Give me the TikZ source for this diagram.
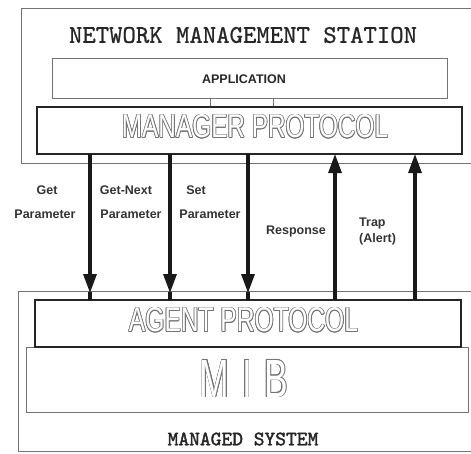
\documentclass[tikz,border=0pt]{standalone}
\usepackage{fontspec}
\setmainfont{Liberation Sans}
\newfontfamily\stationfont{lmmono10-regular.otf}[FakeBold=0.8]
\newfontfamily\systemfont{lmmono10-regular.otf}[FakeBold=1.8]
\usetikzlibrary{arrows.meta,calc}

% outlined (hollow) lettering: grey copies around a white core
\newcommand\hollow[5]{%
  \foreach \a in {0,30,...,330}
    \node[text=black!55, inner sep=0pt] at ($(#2)+(\a:0.75pt)$) {\resizebox{#3}{#4}{#5}};
  \node[text=white, inner sep=0pt] (#1) at (#2) {\resizebox{#3}{#4}{#5}};}

\begin{document}
\begin{tikzpicture}[x=1pt,y=-1pt,
  thinbox/.style={draw=black!55, line width=0.9pt},
  thickbox/.style={draw=black!85, line width=2.6pt},
  boxnode/.style={inner sep=0pt, outer sep=0pt},
  flow/.style={line width=3.1pt, black!90},
  flowhead/.style={flow, -{Triangle[length=19pt,width=13pt]}},
  lbl/.style={font=\bfseries\fontsize{12.5}{14}\selectfont, text=black!80, inner sep=0pt}]

\useasboundingbox (0,0) rectangle (471,453);
\clip (0,0) rectangle (471,453);

% network management station (open to the right)
\draw[thinbox] (490,8) -- (21,8) -- (21,163) -- (490,163);
\node[font=\stationfont\fontsize{25.5}{27}\selectfont, text=black!85, inner sep=0pt] (nms) at (243,35) {NETWORK MANAGEMENT STATION};

% application and its link to the manager protocol
\node[thinbox, boxnode, minimum width=395pt, minimum height=40pt] (app) at (249.5,78) {};
\node[font=\bfseries\fontsize{12.5}{14}\selectfont, text=black!85] (apptxt) at (244,79) {APPLICATION};
\node[thinbox, boxnode, minimum width=63pt, minimum height=9pt] (link) at (241.5,102.5) {};

% manager protocol
\node[thickbox, boxnode, minimum width=425pt, minimum height=47pt] (mgr) at (249.5,130.5) {};
\hollow{mgrtxt}{255,126.5}{266pt}{23pt}{MANAGER PROTOCOL}

% managed system (open to the right)
\draw[thinbox] (490,291) -- (18,291) -- (18,451) -- (490,451);
\node[font=\systemfont\fontsize{20.5}{22}\selectfont, text=black!85, inner sep=0pt] (ms) at (243,439) {MANAGED SYSTEM};

% MIB
\node[thinbox, boxnode, minimum width=442pt, minimum height=65pt] (mib) at (247,380) {};
\hollow{mibtxt}{244,378.5}{88pt}{37pt}{M\hspace{0.35em}I\hspace{0.35em}B}

% agent protocol
\node[thickbox, boxnode, minimum width=426pt, minimum height=47pt] (agt) at (248,323.5) {};
\hollow{agttxt}{243.5,320}{229pt}{24pt}{AGENT PROTOCOL}

% operation lines
\coordinate (c1) at (90,0);
\coordinate (c2) at (170,0);
\coordinate (c3) at (248,0);
\coordinate (c4) at (335,0);
\coordinate (c5) at (415,0);

\foreach \c in {c1,c2,c3}{
  \draw[flowhead] (\c |- mgr.south) -- ($(\c |- agt.north)+(0,-7)$);
  \draw[flow] ($(\c |- agt.north)+(0,-8)$) -- (\c |- agt.north);
}
\foreach \c in {c4,c5}
  \draw[flowhead] (\c |- agt.north) -- (\c |- mgr.south);

% operation labels
\node[lbl] (l1a) at (47,190) {Get};
\node[lbl] (l1b) at (45,214) {Parameter};
\node[lbl] (l2a) at (126,190) {Get-Next};
\node[lbl] (l2b) at (131,214) {Parameter};
\node[lbl] (l3a) at (196,190) {Set};
\node[lbl] (l3b) at (210,214) {Parameter};
\node[lbl] (l4) at (296,231) {Response};
\node[lbl, anchor=west] (l5a) at (359,223) {Trap};
\node[lbl, anchor=west] (l5b) at (359,239) {(Alert)};
\end{tikzpicture}
\end{document}
